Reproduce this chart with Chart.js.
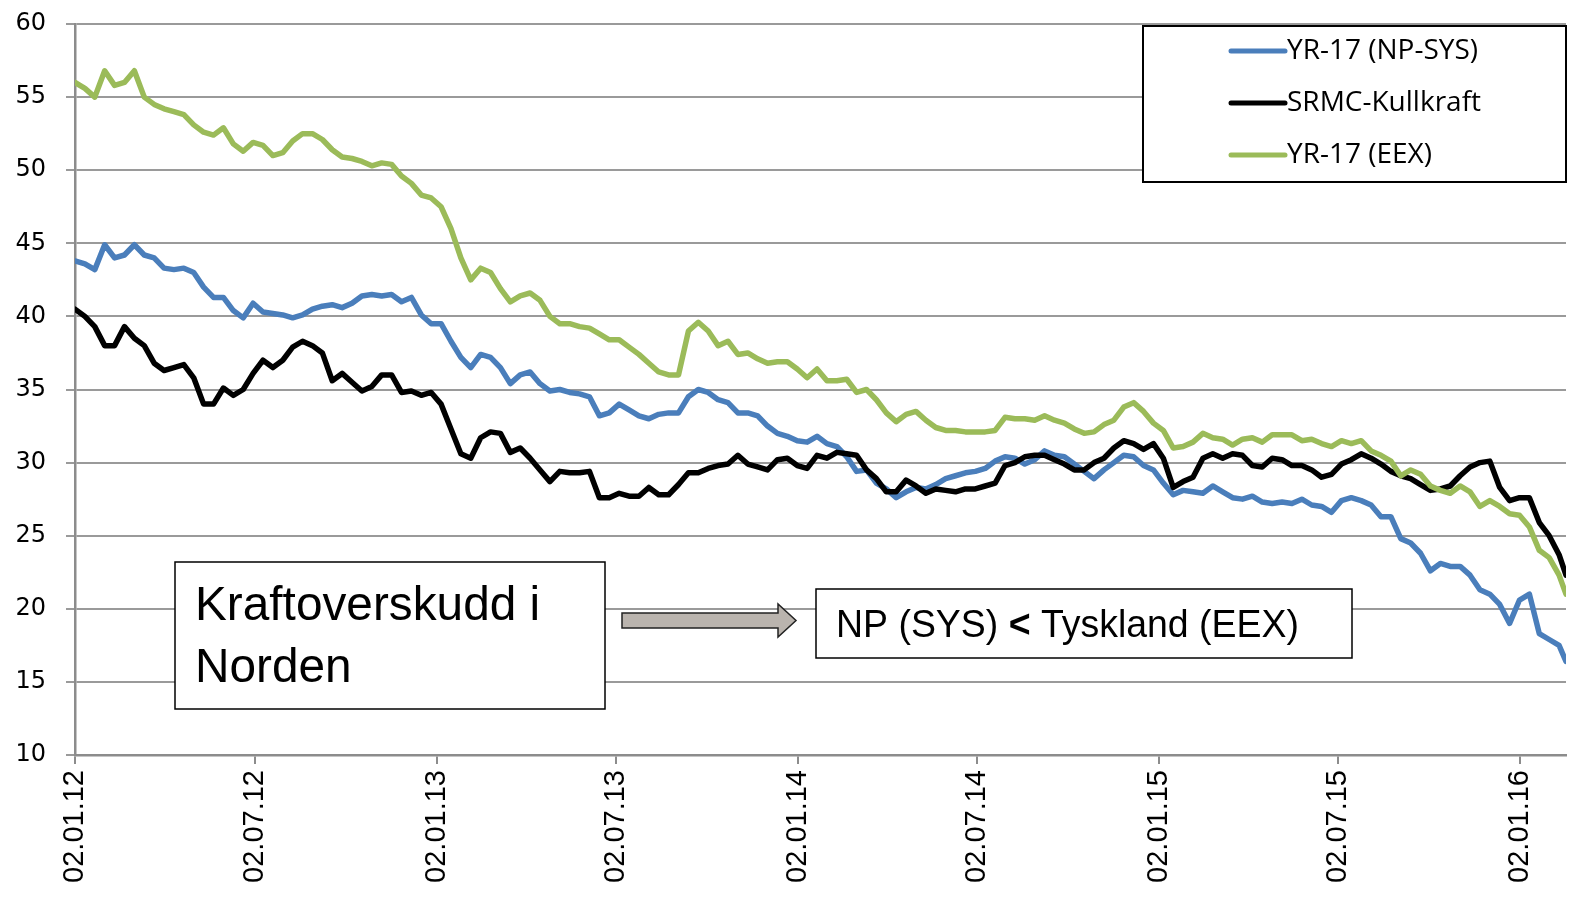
<!DOCTYPE html>
<html>
<head>
<meta charset="utf-8">
<script src="https://cdn.jsdelivr.net/npm/chart.js@4.4.0/dist/chart.umd.min.js"></script>
<style>
  html, body { margin: 0; padding: 0; background: #fff; }
  #wrap { width: 1575px; height: 901px; }
</style>
</head>
<body>
<div id="wrap"><canvas id="chart" width="1575" height="901"></canvas></div>
<script>
// days since 02.01.12, one reading every 10 days, last one on the final trading day
const stepDays = 10;
const lastDay = 1507;
const tickDays = [0, 182, 366, 547, 731, 912, 1096, 1277, 1461];
const tickLabels = ['02.01.12', '02.07.12', '02.01.13', '02.07.13', '02.01.14', '02.07.14', '02.01.15', '02.07.15', '02.01.16'];
const seriesNames = ['YR-17 (NP-SYS)', 'SRMC-Kullkraft', 'YR-17 (EEX)'];

const npSys = [
  43.8, 43.6, 43.2, 44.9, 44.0, 44.2, 44.9, 44.2, 44.0, 43.3,
  43.2, 43.3, 43.0, 42.0, 41.3, 41.3, 40.4, 39.9, 40.9, 40.3,
  40.2, 40.1, 39.9, 40.1, 40.5, 40.7, 40.8, 40.6, 40.9, 41.4,
  41.5, 41.4, 41.5, 41.0, 41.3, 40.1, 39.5, 39.5, 38.3, 37.2,
  36.5, 37.4, 37.2, 36.5, 35.4, 36.0, 36.2, 35.4, 34.9, 35.0,
  34.8, 34.7, 34.5, 33.2, 33.4, 34.0, 33.6, 33.2, 33.0, 33.3,
  33.4, 33.4, 34.5, 35.0, 34.8, 34.3, 34.1, 33.4, 33.4, 33.2,
  32.5, 32.0, 31.8, 31.5, 31.4, 31.8, 31.3, 31.1, 30.4, 29.4,
  29.5, 28.6, 28.2, 27.6, 28.0, 28.3, 28.2, 28.5, 28.9, 29.1,
  29.3, 29.4, 29.6, 30.1, 30.4, 30.3, 29.9, 30.2, 30.8, 30.5,
  30.4, 29.9, 29.4, 28.9, 29.5, 30.0, 30.5, 30.4, 29.8, 29.5,
  28.6, 27.8, 28.1, 28.0, 27.9, 28.4, 28.0, 27.6, 27.5, 27.7,
  27.3, 27.2, 27.3, 27.2, 27.5, 27.1, 27.0, 26.6, 27.4, 27.6,
  27.4, 27.1, 26.3, 26.3, 24.8, 24.5, 23.8, 22.6, 23.1, 22.9,
  22.9, 22.3, 21.3, 21.0, 20.3, 19.0, 20.6, 21.0, 18.3, 17.9,
  17.5, 16.4
];

const srmc = [
  40.5, 40.0, 39.3, 38.0, 38.0, 39.3, 38.5, 38.0, 36.8, 36.3,
  36.5, 36.7, 35.8, 34.0, 34.0, 35.1, 34.6, 35.0, 36.1, 37.0,
  36.5, 37.0, 37.9, 38.3, 38.0, 37.5, 35.6, 36.1, 35.5, 34.9,
  35.2, 36.0, 36.0, 34.8, 34.9, 34.6, 34.8, 34.0, 32.3, 30.6,
  30.3, 31.7, 32.1, 32.0, 30.7, 31.0, 30.3, 29.5, 28.7, 29.4,
  29.3, 29.3, 29.4, 27.6, 27.6, 27.9, 27.7, 27.7, 28.3, 27.8,
  27.8, 28.5, 29.3, 29.3, 29.6, 29.8, 29.9, 30.5, 29.9, 29.7,
  29.5, 30.2, 30.3, 29.8, 29.6, 30.5, 30.3, 30.7, 30.6, 30.5,
  29.5, 28.9, 28.0, 28.0, 28.8, 28.4, 27.9, 28.2, 28.1, 28.0,
  28.2, 28.2, 28.4, 28.6, 29.8, 30.0, 30.4, 30.5, 30.5, 30.2,
  29.9, 29.5, 29.5, 30.0, 30.3, 31.0, 31.5, 31.3, 30.9, 31.3,
  30.3, 28.3, 28.7, 29.0, 30.3, 30.6, 30.3, 30.6, 30.5, 29.8,
  29.7, 30.3, 30.2, 29.8, 29.8, 29.5, 29.0, 29.2, 29.9, 30.2,
  30.6, 30.3, 29.9, 29.4, 29.1, 28.9, 28.5, 28.1, 28.2, 28.4,
  29.1, 29.7, 30.0, 30.1, 28.3, 27.4, 27.6, 27.6, 25.9, 25.0,
  23.7, 22.3
];

const eex = [
  56.0, 55.6, 55.0, 56.8, 55.8, 56.0, 56.8, 55.0, 54.5, 54.2,
  54.0, 53.8, 53.1, 52.6, 52.4, 52.9, 51.8, 51.3, 51.9, 51.7,
  51.0, 51.2, 52.0, 52.5, 52.5, 52.1, 51.4, 50.9, 50.8, 50.6,
  50.3, 50.5, 50.4, 49.6, 49.1, 48.3, 48.1, 47.5, 46.0, 44.0,
  42.5, 43.3, 43.0, 41.9, 41.0, 41.4, 41.6, 41.1, 40.0, 39.5,
  39.5, 39.3, 39.2, 38.8, 38.4, 38.4, 37.9, 37.4, 36.8, 36.2,
  36.0, 36.0, 39.0, 39.6, 39.0, 38.0, 38.3, 37.4, 37.5, 37.1,
  36.8, 36.9, 36.9, 36.4, 35.8, 36.4, 35.6, 35.6, 35.7, 34.8,
  35.0, 34.3, 33.4, 32.8, 33.3, 33.5, 32.9, 32.4, 32.2, 32.2,
  32.1, 32.1, 32.1, 32.2, 33.1, 33.0, 33.0, 32.9, 33.2, 32.9,
  32.7, 32.3, 32.0, 32.1, 32.6, 32.9, 33.8, 34.1, 33.5, 32.7,
  32.2, 31.0, 31.1, 31.4, 32.0, 31.7, 31.6, 31.2, 31.6, 31.7,
  31.4, 31.9, 31.9, 31.9, 31.5, 31.6, 31.3, 31.1, 31.5, 31.3,
  31.5, 30.8, 30.5, 30.1, 29.1, 29.5, 29.2, 28.4, 28.1, 27.9,
  28.4, 28.0, 27.0, 27.4, 27.0, 26.5, 26.4, 25.6, 24.0, 23.5,
  22.3, 21.0
];

const colors = ['#4a7ebb', '#000000', '#9bbb59'];

function toPoints(values) {
  return values.map((v, i) => ({ x: i === values.length - 1 ? lastDay : i * stepDays, y: v }));
}

// text squeezed sideways, like the narrow font of the original boxes
function narrowText(ctx, text, x, y, font, sx) {
  ctx.save();
  ctx.font = font;
  ctx.translate(x, y);
  ctx.scale(sx, 1);
  ctx.fillText(text, 0, 0);
  const w = ctx.measureText(text).width * sx;
  ctx.restore();
  return w;
}

const overlay = {
  id: 'overlay',
  afterDraw(chart) {
    const ctx = chart.ctx;
    ctx.save();

    // legend
    ctx.fillStyle = '#fff';
    ctx.fillRect(1143, 26, 423, 156);
    ctx.strokeStyle = '#000';
    ctx.lineWidth = 2;
    ctx.strokeRect(1143, 26, 423, 156);
    const rows = [51, 103, 155];
    chart.data.datasets.forEach((ds, i) => {
      ctx.strokeStyle = ds.borderColor;
      ctx.lineWidth = 5;
      ctx.lineCap = 'round';
      ctx.beginPath();
      ctx.moveTo(1231, rows[i]);
      ctx.lineTo(1285, rows[i]);
      ctx.stroke();
      ctx.fillStyle = '#000';
      ctx.font = '28px "Open Sans"';
      ctx.textBaseline = 'middle';
      ctx.fillText(ds.label, 1287, rows[i]);
    });

    // left text box
    ctx.textBaseline = 'alphabetic';
    ctx.fillStyle = '#fff';
    ctx.fillRect(175, 562, 430, 147);
    ctx.strokeStyle = '#000';
    ctx.lineWidth = 1.5;
    ctx.strokeRect(175, 562, 430, 147);
    ctx.fillStyle = '#000';
    narrowText(ctx, 'Kraftoverskudd i', 195, 620, '49px "Liberation Sans"', 0.975);
    narrowText(ctx, 'Norden', 195, 682, '49px "Liberation Sans"', 0.975);

    // arrow
    ctx.beginPath();
    ctx.moveTo(622, 613);
    ctx.lineTo(778, 613);
    ctx.lineTo(778, 604);
    ctx.lineTo(796, 620.5);
    ctx.lineTo(778, 637);
    ctx.lineTo(778, 628);
    ctx.lineTo(622, 628);
    ctx.closePath();
    ctx.fillStyle = '#bab4ae';
    ctx.fill();
    ctx.strokeStyle = '#222';
    ctx.lineWidth = 1.5;
    ctx.stroke();

    // right text box
    ctx.fillStyle = '#fff';
    ctx.fillRect(816, 589, 536, 69);
    ctx.strokeStyle = '#000';
    ctx.strokeRect(816, 589, 536, 69);
    ctx.fillStyle = '#000';
    let x = 836;
    x += narrowText(ctx, 'NP (SYS) ', x, 637, '39px "Liberation Sans"', 0.96);
    x += narrowText(ctx, '<', x, 637, 'bold 39px "Liberation Sans"', 0.96);
    narrowText(ctx, ' Tyskland (EEX)', x, 637, '39px "Liberation Sans"', 0.96);

    ctx.restore();
  }
};

new Chart(document.getElementById('chart'), {
  type: 'line',
  data: {
    datasets: [
      { label: seriesNames[0], data: toPoints(npSys), borderColor: colors[0], order: 2 },
      { label: seriesNames[1], data: toPoints(srmc), borderColor: colors[1], order: 1 },
      { label: seriesNames[2], data: toPoints(eex), borderColor: colors[2], order: 0 }
    ]
  },
  options: {
    responsive: false,
    animation: false,
    parsing: false,
    layout: { padding: { top: 24, right: 9, left: 0, bottom: 0 } },
    elements: {
      point: { radius: 0 },
      line: { borderWidth: 5.5, tension: 0, borderCapStyle: 'round', borderJoinStyle: 'round' }
    },
    plugins: {
      legend: { display: false },
      tooltip: { enabled: false }
    },
    scales: {
      x: {
        type: 'linear',
        min: 0,
        max: lastDay,
        afterBuildTicks: (scale) => { scale.ticks = tickDays.map(v => ({ value: v })); },
        afterFit: (scale) => { scale.height = 146; },
        grid: { drawOnChartArea: false, drawTicks: true, tickLength: 9, color: '#8c8c8c', lineWidth: 2 },
        border: { color: '#8c8c8c', width: 2.5 },
        ticks: {
          autoSkip: false,
          maxRotation: 90,
          minRotation: 90,
          padding: 6,
          color: '#000',
          font: { family: '"Liberation Sans"', size: 29 },
          callback: (value, index) => tickLabels[index]
        }
      },
      y: {
        min: 10,
        max: 60,
        afterFit: (scale) => {
          scale.width = 75;
          // the big label padding should not push the plot down
          scale.paddingTop = 0;
          scale.paddingBottom = 0;
        },
        grid: { color: '#9a9a9a', lineWidth: 2, tickLength: 9 },
        border: { color: '#8c8c8c', width: 2.5 },
        ticks: {
          stepSize: 5,
          padding: 20,
          color: '#000',
          font: { family: '"DejaVu Sans"', size: 24 }
        }
      }
    }
  },
  plugins: [overlay]
});
</script>
</body>
</html>
